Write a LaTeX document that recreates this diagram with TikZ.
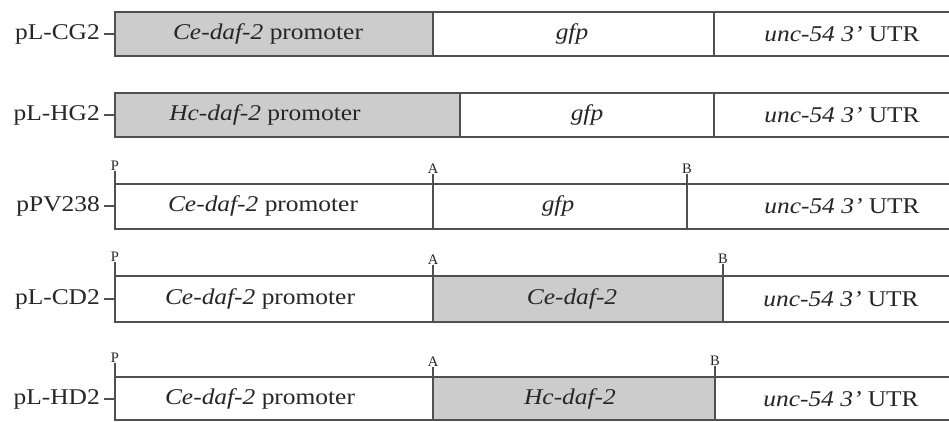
\documentclass[tikz,border=0pt]{standalone}
\usepackage{fontspec}
\usepackage{graphicx}
\setmainfont{Liberation Serif}
\definecolor{ln}{HTML}{505050}
\definecolor{gy}{HTML}{CCCCCC}
\newcommand{\wtxt}[1]{\scalebox{1.13}[1]{#1}}
\tikzset{
  seg/.style={draw=ln, line width=1.4pt},
  gseg/.style={draw=ln, fill=gy, line width=1.4pt},
  txt/.style={inner sep=0pt, font=\fontsize{22.5}{24}\selectfont, text=black!85},
  rowlab/.style={txt, anchor=east},
  site/.style={inner sep=0pt, font=\fontsize{14.5}{15}\selectfont, anchor=south, text=black!85},
  tick/.style={draw=ln, line width=1.2pt},
}
\begin{document}
\begin{tikzpicture}[x=1pt,y=-1pt]
\useasboundingbox (0,0) rectangle (949,422);
\fill[white] (0,0) rectangle (949,422);
\clip (0,0) rectangle (949,422);
% ---- Row 1: pL-CG2
\draw[gseg] (115,12) rectangle (433,56);
\draw[seg] (433,12) rectangle (714,56);
\draw[seg] (714,12) rectangle (970,56);
\node[rowlab] (l1) at (100,34) {\wtxt{pL-CG2}};
\coordinate (b1) at (115,34);
\draw[tick] (104,34) -- (b1);
\node[txt] (p1) at (268,34) {\wtxt{\textit{Ce-daf-2} promoter}};
\node[txt] (g1) at (572,34) {\wtxt{\textit{gfp}}};
\node[txt] (u1) at (842,34) {\wtxt{\textit{unc-54 3’} UTR}};
% ---- Row 2: pL-HG2
\draw[gseg] (115,93) rectangle (460,137);
\draw[seg] (460,93) rectangle (714,137);
\draw[seg] (714,93) rectangle (970,137);
\node[rowlab] (l2) at (100,115) {\wtxt{pL-HG2}};
\coordinate (b2) at (115,115);
\draw[tick] (104,115) -- (b2);
\node[txt] (p2) at (265,115) {\wtxt{\textit{Hc-daf-2} promoter}};
\node[txt] (g2) at (587,115) {\wtxt{\textit{gfp}}};
\node[txt] (u2) at (842,115) {\wtxt{\textit{unc-54 3’} UTR}};
% ---- Row 3: pPV238
\draw[seg] (115,184) rectangle (433,229);
\draw[seg] (433,184) rectangle (687,229);
\draw[seg] (687,184) rectangle (970,229);
\node[rowlab] (l3) at (100,206) {\wtxt{pPV238}};
\coordinate (b3) at (115,206);
\draw[tick] (104,206) -- (b3);
\node[txt] (p3) at (263,206) {\wtxt{\textit{Ce-daf-2} promoter}};
\node[txt] (g3) at (558,206) {\wtxt{\textit{gfp}}};
\node[txt] (u3) at (842,206) {\wtxt{\textit{unc-54 3’} UTR}};
\node[site] (P3) at (115,171) {P};
\node[site] (A3) at (433,174) {A};
\node[site] (B3) at (687,174) {B};
\draw[tick] (P3.south) -- (115,184);
\draw[tick] (A3.south) -- (433,184);
\draw[tick] (B3.south) -- (687,184);
% ---- Row 4: pL-CD2
\draw[seg] (115,276) rectangle (433,322);
\draw[gseg] (433,276) rectangle (723,322);
\draw[seg] (723,276) rectangle (970,322);
\node[rowlab] (l4) at (100,299) {\wtxt{pL-CD2}};
\coordinate (b4) at (115,299);
\draw[tick] (104,299) -- (b4);
\node[txt] (p4) at (260,299) {\wtxt{\textit{Ce-daf-2} promoter}};
\node[txt] (g4) at (572,299) {\wtxt{\textit{Ce-daf-2}}};
\node[txt] (u4) at (841,299) {\wtxt{\textit{unc-54 3’} UTR}};
\node[site] (P4) at (115,262) {P};
\node[site] (A4) at (433,265) {A};
\node[site] (B4) at (723,264) {B};
\draw[tick] (P4.south) -- (115,276);
\draw[tick] (A4.south) -- (433,276);
\draw[tick] (B4.south) -- (723,276);
% ---- Row 5: pL-HD2
\draw[seg] (115,377) rectangle (433,420);
\draw[gseg] (433,377) rectangle (715,420);
\draw[seg] (715,377) rectangle (970,420);
\node[rowlab] (l5) at (100,399) {\wtxt{pL-HD2}};
\coordinate (b5) at (115,399);
\draw[tick] (104,399) -- (b5);
\node[txt] (p5) at (260,399) {\wtxt{\textit{Ce-daf-2} promoter}};
\node[txt] (g5) at (570,399) {\wtxt{\textit{Hc-daf-2}}};
\node[txt] (u5) at (841,399) {\wtxt{\textit{unc-54 3’} UTR}};
\node[site] (P5) at (115,363) {P};
\node[site] (A5) at (433,367) {A};
\node[site] (B5) at (715,366) {B};
\draw[tick] (P5.south) -- (115,377);
\draw[tick] (A5.south) -- (433,377);
\draw[tick] (B5.south) -- (715,377);
\end{tikzpicture}
\end{document}
